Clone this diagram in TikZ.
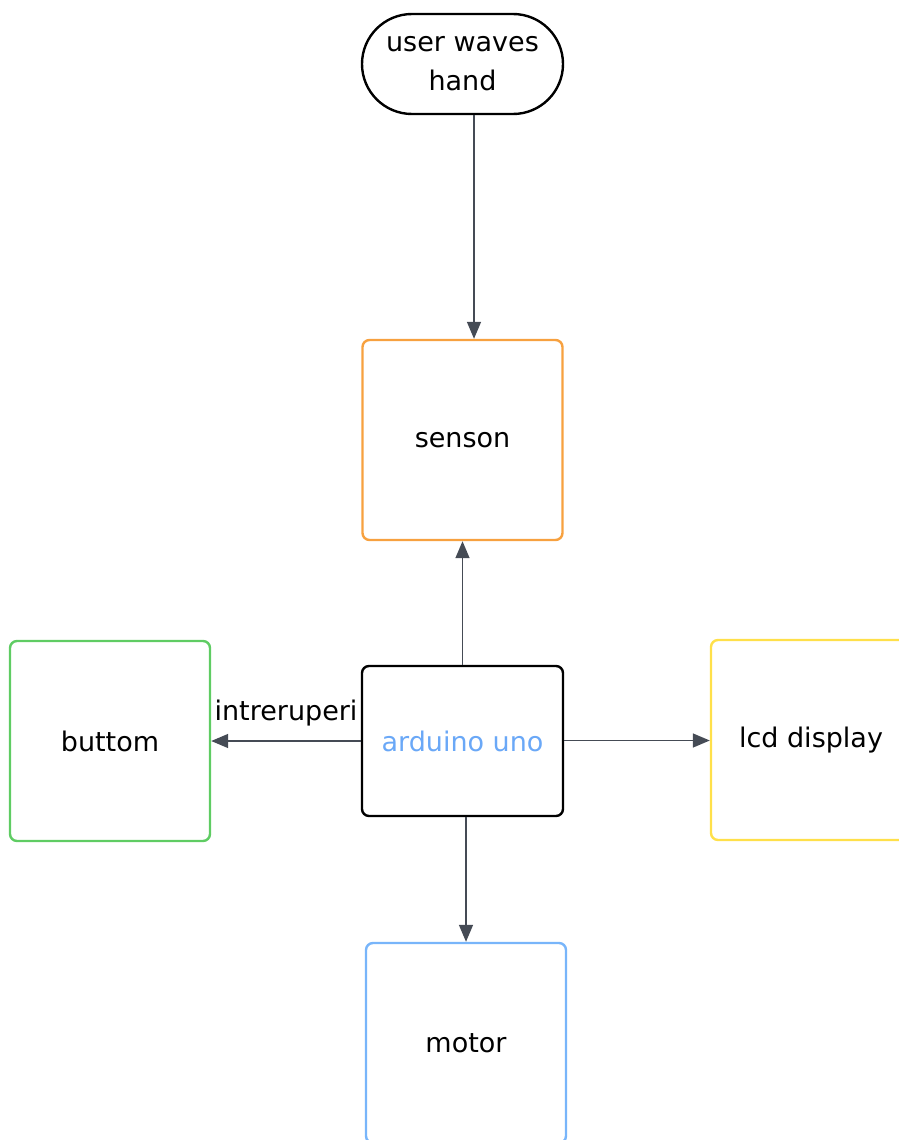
\documentclass[tikz,border=0pt]{standalone}
\usepackage{fontspec}
\setmainfont{DejaVu Sans}
\usetikzlibrary{arrows.meta}
\definecolor{linegray}{HTML}{454B55}
\definecolor{boxorange}{HTML}{F7A13F}
\definecolor{boxgreen}{HTML}{5FCC63}
\definecolor{boxyellow}{HTML}{FFE04A}
\definecolor{boxblue}{HTML}{78B5FA}
\definecolor{textblue}{HTML}{6AA8F7}
\tikzset{
  blockbox/.style={draw, line width=2.4pt, rounded corners=7pt, minimum width=200pt, minimum height=200pt, inner sep=0pt, font=\fontsize{27}{39}\selectfont, align=center},
  conn/.style={draw=linegray, line width=1.5pt, -{Triangle[length=17pt,width=14pt]}},
  lbl/.style={font=\fontsize{27}{30}\selectfont, inner sep=0pt}
}
\begin{document}
\begin{tikzpicture}[x=1pt,y=1pt]
\useasboundingbox (0,0) rectangle (898,-1140);
\node[blockbox, rounded corners=50pt, minimum height=100pt, minimum width=201pt] (hand) at (462.5,-64) {user waves\\hand};
\node[blockbox, draw=boxorange] (senson) at (462.5,-440) {senson};
\node[blockbox, draw=black, minimum height=150pt, minimum width=201pt, text=textblue] (ard) at (462.5,-741) {\raisebox{-3pt}{arduino uno}};
\node[blockbox, draw=boxgreen] (buttom) at (110,-741) {buttom};
\node[blockbox, draw=boxyellow] (lcd) at (811,-740) {\raisebox{-2pt}{lcd display}};
\node[blockbox, draw=boxblue] (motor) at (466,-1043) {motor};
\coordinate (hx) at (474,0);
\draw[conn] (hand.south -| hx) -- (senson.north -| hx);
\draw[conn] (ard.north) -- (senson.south);
\draw[conn] (ard.west |- 0,-741) -- (buttom.east |- 0,-741) node[lbl, pos=0.5, above=14pt] (intr) {intreruperi};
\draw[conn] (ard.east |- 0,-740.5) -- (lcd.west |- 0,-740.5);
\coordinate (mx) at (466,0);
\draw[conn] (ard.south -| mx) -- (motor.north -| mx);
\end{tikzpicture}
\end{document}
